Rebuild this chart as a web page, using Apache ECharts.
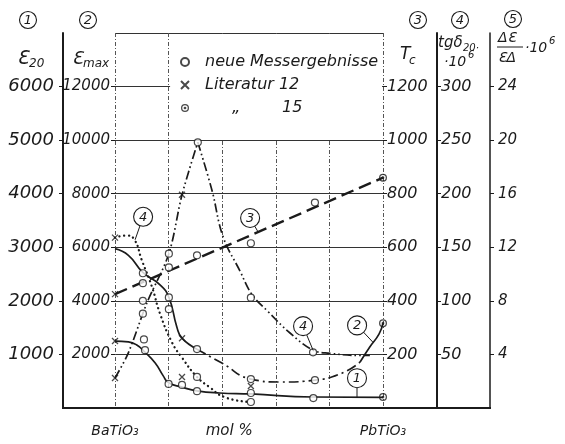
<!DOCTYPE html>
<html>
<head>
<meta charset="utf-8">
<script src="https://cdn.jsdelivr.net/npm/echarts@6/dist/echarts.min.js"></script>
<style>
  html, body { margin: 0; padding: 0; background: #fff; }
  #chart { width: 565px; height: 444px; }
</style>
</head>
<body>
<div id="chart"></div>
<script>
// BaTiO3 – PbTiO3 solid solutions: dielectric data versus composition.
// x values are mol % PbTiO3 (0 = BaTiO3, 100 = PbTiO3).

const xTickLabels = { 0: 'BaTiO₃', 40: '{m|mol %}', 100: 'PbTiO₃' };

// ① room temperature permittivity ε20
const eps20Curve = [[0,1250],[5,1235],[8,1180],[11,1050],[15,840],[18,600],[20,470],[25,390],[30.6,320],[39,280],[50.7,262],[74,205],[100,200]];
const eps20New   = [[10.8,1280],[11.2,1080],[20,450],[25,430],[30.6,315],[50.7,280],[74,185]];
const eps20Lit12 = [[0,1250],[25,580],[50.7,410]];
const eps20Lit15 = [[100,205]];

// ② peak permittivity εmax
const epsMaxCurve = [[0,5950],[5,5700],[10.4,5065],[16.8,4600],[20.1,4134],[23.1,3016],[25,2607],[30.6,2197],[39.9,1676],[50.7,1080],[61.6,970],[74.6,1040],[84.7,1300],[91.4,1710],[95,2270],[98.5,2760],[100,3165]];
const epsMaxNew   = [[10.4,5030],[20.1,4130],[20.1,3690],[30.6,2200],[50.7,1080],[74.6,1040]];
const epsMaxLit12 = [[25,2607]];
const epsMaxLit15 = [[100,3165]];

// ③ Curie temperature Tc
const tcLine  = [[0,425],[50,642],[100,860]];
const tcNew   = [[10.4,466],[20.1,525],[30.6,570],[50.7,615],[74.6,767]];
const tcLit12 = [[0,425]];
const tcLit15 = [[100,860]];

// ④ tgδ20 · 10^6, dotted branch
const tgdDotted      = [[0,159],[4,161],[7,158],[10,138],[13.8,113],[16.8,88],[21.3,61],[25,47],[30.6,29],[35,20],[41,10],[50.7,5.6]];
const tgdDottedNew   = [[30.6,29],[50.7,5.6]];
const tgdDottedLit12 = [[0,159]];

// ④ peaked branch
const tgdPeak      = [[0,28],[4.9,51],[11.9,98],[20.1,144],[25,199],[30.9,248],[36.2,203],[40.3,160],[46.6,128],[51.1,106],[57.1,90],[65.3,70],[73.9,54],[80.2,51],[91.4,49],[95.1,49]];
const tgdPeakNew   = [[10.4,88],[10.4,100],[20.1,144],[30.9,248],[50.7,103],[73.9,52]];
const tgdPeakLit12 = [[0,28],[25,199]];

// ---------------------------------------------------------------------------
const INK = '#1b1b1b';
const FONT = 'DejaVu Sans';
const GRID = { left: 115, right: 182, top: 33, bottom: 36 };
const OFF = { eps20: 52, tgd: 54, dEps: 107 };
const W = 565, H = 444;
const axX = {
  eps20: GRID.left - OFF.eps20,
  epsMax: GRID.left,
  tc: W - GRID.right,
  tgd: W - GRID.right + OFF.tgd,
  dEps: W - GRID.right + OFF.dEps
};
const baseY = H - GRID.bottom;

const NEW = 'neue Messergebnisse', LIT12 = 'Literatur 12', LIT15 = 'Literatur 15';

const ringDot = 'path://M0,5A5,5 0 1,0 10,5A5,5 0 1,0 0,5Z M1.6,5A3.4,3.4 0 1,1 8.4,5A3.4,3.4 0 1,1 1.6,5Z M3.3,5A1.7,1.7 0 1,0 6.7,5A1.7,1.7 0 1,0 3.3,5Z';
const crossPath = 'path://M0,0L10,10M10,0L0,10';

const markerStyle = {
  [NEW]:   { symbol: 'circle', symbolSize: 7, itemStyle: { color: '#fff', borderColor: INK, borderWidth: 1.2 } },
  [LIT12]: { symbol: crossPath, symbolSize: 6, itemStyle: { color: 'rgba(0,0,0,0)', borderColor: INK, borderWidth: 1.3 } },
  [LIT15]: { symbol: ringDot, symbolSize: 8, itemStyle: { color: INK, borderWidth: 0 } }
};

function curve(data, yIdx, lineStyle, smooth) {
  return {
    type: 'line', data, yAxisIndex: yIdx, showSymbol: false, silent: true,
    smooth: smooth === undefined ? 0.5 : smooth, z: 2,
    lineStyle: Object.assign({ color: INK, width: 1.7 }, lineStyle)
  };
}
function marks(name, data, yIdx) {
  return Object.assign({ type: 'scatter', name, data, yAxisIndex: yIdx, z: 4, silent: true }, markerStyle[name]);
}
const part = (arr, lo, hi) => arr.filter(p => p[0] >= lo && p[0] <= hi);

const dashDot = [10, 4, 2, 4];
const dashDotDot = [9, 3, 1.6, 3, 1.6, 3];

const series = [
  // ①
  curve(eps20Curve, 1, { type: 'solid' }),
  // ②
  curve(part(epsMaxCurve, 0, 30.6), 0, { type: 'solid' }),
  curve(part(epsMaxCurve, 30.6, 91.4), 0, { type: dashDot }),
  curve(part(epsMaxCurve, 91.4, 100), 0, { type: 'solid' }),
  // ③
  curve(tcLine, 2, { type: [13, 6], width: 2.4 }, false),
  // ④ dotted
  curve(tgdDotted, 3, { type: [0.1, 4.6], width: 2.3, cap: 'round' }),
  // ④ peaked
  curve(part(tgdPeak, 0, 30.9), 3, { type: dashDotDot }, 0.3),
  curve(part(tgdPeak, 30.9, 100), 3, { type: dashDotDot }, 0.4),

  marks(NEW, eps20New, 1), marks(NEW, epsMaxNew, 0), marks(NEW, tcNew, 2),
  marks(NEW, tgdDottedNew, 3), marks(NEW, tgdPeakNew, 3),
  marks(LIT12, eps20Lit12, 1), marks(LIT12, epsMaxLit12, 0), marks(LIT12, tcLit12, 2),
  marks(LIT12, tgdDottedLit12, 3), marks(LIT12, tgdPeakLit12, 3),
  marks(LIT15, eps20Lit15, 1), marks(LIT15, epsMaxLit15, 0), marks(LIT15, tcLit15, 2)
];

function yAxis(pos, offset, max, interval, lineWidth, labelSize, margin, split) {
  return {
    type: 'value', position: pos, offset, min: 0, max, interval,
    axisLine: { show: lineWidth > 0, onZero: false, lineStyle: { color: INK, width: lineWidth } },
    axisTick: { show: true, length: 4, lineStyle: { color: INK, width: 1 } },
    axisLabel: {
      margin, color: INK, fontFamily: FONT, fontStyle: 'italic', fontSize: labelSize,
      showMinLabel: false, showMaxLabel: false,
      formatter: v => String(v)
    },
    splitLine: { show: split, lineStyle: { color: '#333', width: 1 } }
  };
}

const chart = echarts.init(document.getElementById('chart'), null, { renderer: 'canvas' });

const option = {
  animation: false,
  backgroundColor: '#fff',
  grid: { left: GRID.left, right: GRID.right, top: GRID.top, bottom: GRID.bottom },
  xAxis: {
    type: 'value', min: 0, max: 100, interval: 20,
    axisLine: { show: false, onZero: false },
    axisTick: { show: false },
    splitLine: { show: true, showMinLine: true, showMaxLine: true, lineStyle: { color: '#555', width: 1, type: [4, 2, 1, 2] } },
    axisLabel: {
      margin: 16, color: INK, fontFamily: FONT, fontStyle: 'italic', fontSize: 14,
      interval: 0, showMinLabel: true, showMaxLabel: true,
      formatter: v => xTickLabels[v] || '',
      rich: { m: { fontFamily: FONT, fontStyle: 'italic', fontSize: 15, color: INK, padding: [0, 0, 0, 14] } }
    }
  },
  yAxis: [
    yAxis('left', 0, 14000, 2000, 0, 15, 5, true),          // εmax
    yAxis('left', OFF.eps20, 7000, 1000, 2, 18, 9, false),  // ε20
    yAxis('right', 0, 1400, 200, 0, 16, 4, false),          // Tc
    yAxis('right', OFF.tgd, 350, 50, 2, 16, 4, false),      // tgδ20·10^6
    yAxis('right', OFF.dEps, 28, 4, 1.5, 15, 8, false)      // Δε/εΔ·10^6
  ],
  legend: {
    data: [NEW, LIT12, LIT15],
    orient: 'vertical', left: 180, top: 54, padding: 0,
    itemWidth: 30, itemHeight: 8, itemGap: 7, selectedMode: false,
    formatter: n => n === LIT15 ? '{q|\u201E}15' : n,
    textStyle: {
      color: INK, fontFamily: FONT, fontStyle: 'italic', fontSize: 16,
      rich: { q: { color: INK, fontFamily: FONT, fontStyle: 'italic', fontSize: 16, width: 50, padding: [0, 0, 0, 27] } }
    }
  },
  series
};
chart.setOption(option);

// ---- annotations ----
const px = (yIdx, p) => chart.convertToPixel({ xAxisIndex: 0, yAxisIndex: yIdx }, p);

function txt(x, y, text, size, align) {
  return {
    type: 'text', x, y, z: 10,
    style: { text, fill: INK, fontFamily: FONT, fontStyle: 'italic', fontSize: size, align: align || 'left', verticalAlign: 'middle' }
  };
}
function ring(cx, cy, digit, r) {
  return [
    { type: 'circle', z: 10, shape: { cx, cy, r }, style: { fill: '#fff', stroke: INK, lineWidth: 1.1 } },
    txt(cx, cy + 0.5, digit, 13, 'center')
  ];
}
function seg(x1, y1, x2, y2, w) {
  return { type: 'line', z: 10, shape: { x1, y1, x2, y2 }, style: { stroke: INK, lineWidth: w || 1 } };
}

const g = [];

// blank box behind the legend
const b1 = px(0, [20, 14000]), b2 = px(0, [100, 10000]);
g.push({ type: 'rect', z: 1, shape: { x: b1[0] + 1.5, y: b1[1] + 1, width: b2[0] - b1[0] - 2.5, height: b2[1] - b1[1] - 2 }, style: { fill: '#fff' } });

// common base line under all scales
g.push(seg(axX.eps20 - 1, baseY, axX.dEps + 1, baseY, 2));

// scale numbers
const topY = 20;
g.push(...ring(axX.eps20 - 35, topY, '1', 8.5));
g.push(...ring(axX.epsMax - 27, topY, '2', 8.5));
g.push(...ring(axX.tc + 35, topY, '3', 8.5));
g.push(...ring(axX.tgd + 23, topY, '4', 8.5));
g.push(...ring(axX.dEps + 23, topY - 1, '5', 8.5));

// scale titles
g.push(txt(axX.eps20 - 46, 59, 'Ɛ', 19), txt(axX.eps20 - 34, 64, '20', 12));
g.push(txt(axX.epsMax - 43, 59, 'Ɛ', 18), txt(axX.epsMax - 32, 64, 'max', 12));
g.push(txt(axX.tc + 17, 55, 'T', 17), txt(axX.tc + 26, 61, 'c', 12));
g.push(txt(axX.tgd + 1, 43, 'tgδ', 15), txt(axX.tgd + 26, 48, '20·', 10));
g.push(txt(axX.tgd + 7, 62, '·10', 14), txt(axX.tgd + 31, 55, '6', 10));
g.push(txt(axX.dEps + 8, 38, 'ΔƐ', 14), seg(axX.dEps + 7, 47, axX.dEps + 33, 47, 1), txt(axX.dEps + 8, 58, 'ƐΔ', 14));
g.push(txt(axX.dEps + 35, 48, '·10', 14), txt(axX.dEps + 59, 41, '6', 10));

// curve labels with leader lines
const callouts = [
  { label: '4', yIdx: 3, at: [7.5, 157],  dx: 8,   dy: -23 },
  { label: '3', yIdx: 2, at: [53.4, 657], dx: -8,  dy: -14 },
  { label: '4', yIdx: 3, at: [73.9, 54],  dx: -10, dy: -24 },
  { label: '2', yIdx: 0, at: [96.3, 2450], dx: -16, dy: -17 },
  { label: '1', yIdx: 1, at: [90.3, 202], dx: 0,   dy: -19 }
];
const R = 9.5;
callouts.forEach(c => {
  const a = px(c.yIdx, c.at);
  const cx = a[0] + c.dx, cy = a[1] + c.dy;
  const d = Math.hypot(c.dx, c.dy);
  g.push(seg(a[0], a[1], cx - R * c.dx / d, cy - R * c.dy / d, 1));
  g.push(...ring(cx, cy, c.label, R));
});

chart.setOption({ graphic: g });
</script>
</body>
</html>
